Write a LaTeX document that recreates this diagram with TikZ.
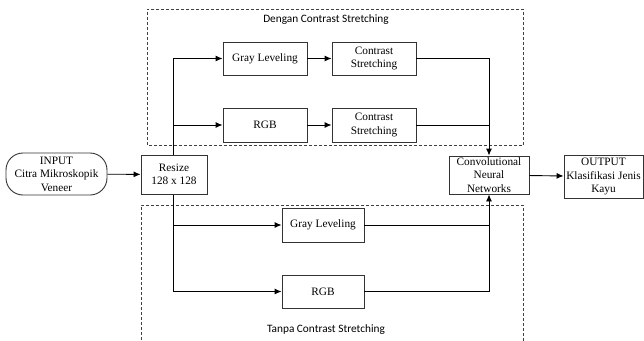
\documentclass[tikz,border=0pt]{standalone}
\usepackage{fontspec}
\setmainfont{Liberation Serif}
\newfontfamily\lblfont{Carlito}
\usetikzlibrary{arrows.meta}
\tikzset{
  boxnode/.style={draw=black!80, fill=white, line width=0.9pt, inner sep=0pt, align=center,
    font=\fontsize{11.3pt}{13.5pt}\selectfont},
  grp/.style={draw=black!75, line width=0.9pt, dash pattern=on 3pt off 2pt},
  conn/.style={draw=black, line width=0.9pt},
  arr/.style={conn, -{Latex[length=7pt,width=6pt]}},
  grplabel/.style={font=\lblfont\fontsize{11.3pt}{13pt}\selectfont, inner sep=0pt}
}
\begin{document}
\begin{tikzpicture}[x=1pt,y=-1pt]
\useasboundingbox (0,0) rectangle (644,340);
% group frames
\draw[grp] (523,145) -- (523,9) -- (147,9) -- (147,145) -- cycle;
\draw[grp] (141,345) -- (141,205) -- (523,205) -- (523,345);
\node[grplabel] (lblA) at (326,20) {Dengan Contrast Stretching};
\node[grplabel] (lblB) at (326,330) {Tanpa Contrast Stretching};
% trunk coordinates
\coordinate (t1) at (173,58.5);
\coordinate (t2) at (173,125);
\coordinate (t3) at (173,225);
\coordinate (t4) at (173,291.5);
\coordinate (r1) at (489,58.5);
\coordinate (r2) at (489,125);
\coordinate (r3) at (489,225);
\coordinate (r4) at (489,291.5);
% trunk line
\draw[conn] (t1) -- (t4);
% nodes
\node[boxnode, rounded corners=17pt, minimum width=101pt, minimum height=42pt] (in) at (56.5,174) {INPUT\\Citra Mikroskopik\\Veneer};
\node[boxnode, minimum width=66pt, minimum height=39pt] (rs) at (174,174.5) {Resize\\128 x 128};
\node[boxnode, minimum width=84pt, minimum height=33pt] (gl1) at (265,58.5) {Gray Leveling};
\node[boxnode, minimum width=84pt, minimum height=33pt] (cs1) at (374,58.5) {Contrast\\Stretching};
\node[boxnode, minimum width=84pt, minimum height=34pt] (rgb1) at (265,125) {RGB};
\node[boxnode, minimum width=84pt, minimum height=34pt] (cs2) at (374,125) {Contrast\\Stretching};
\node[boxnode, minimum width=80pt, minimum height=38pt] (cnn) at (489,175) {Convolutional\\Neural\\Networks};
\node[boxnode, minimum width=79pt, minimum height=43pt] (out) at (603.5,176.5) {OUTPUT\\Klasifikasi Jenis\\Kayu};
\node[boxnode, minimum width=82pt, minimum height=34pt] (gl2) at (323,225) {Gray Leveling};
\node[boxnode, minimum width=82pt, minimum height=33pt] (rgb2) at (323,291.5) {RGB};
% connectors
\draw[arr] (in) -- (rs);
\draw[arr] (t1) -- (gl1);
\draw[arr] (t2) -- (rgb1);
\draw[arr] (t3) -- (gl2);
\draw[arr] (t4) -- (rgb2);
\draw[arr] (gl1) -- (cs1);
\draw[arr] (rgb1) -- (cs2);
\draw[arr] (cs1.east) -- (r1) -- (cnn.north);
\draw[conn] (cs2.east) -- (r2);
\draw[arr] (rgb2.east) -- (r4) -- (cnn.south);
\draw[conn] (gl2.east) -- (r3);
\draw[arr] (cnn) -- (out);
\end{tikzpicture}
\end{document}
